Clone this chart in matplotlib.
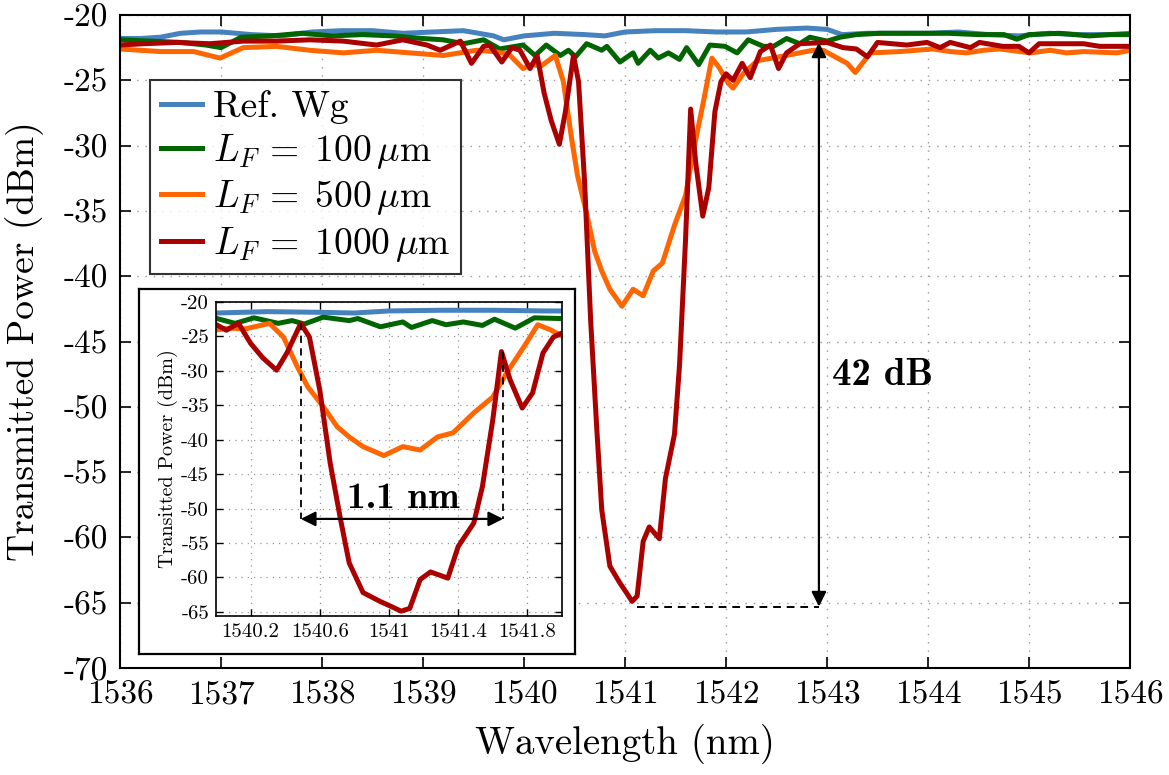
import matplotlib
matplotlib.use("Agg")
import matplotlib.pyplot as plt

plt.rcParams['font.family'] = 'cmr10'
plt.rcParams['mathtext.fontset'] = 'cm'
plt.rcParams['axes.unicode_minus'] = False
plt.rcParams['axes.formatter.use_mathtext'] = True

# Ref. waveguide
wl_ref = [1536.0, 1536.2, 1536.4, 1536.6, 1536.8, 1537.0, 1537.3, 1537.6, 1537.9, 1538.2,
          1538.5, 1538.8, 1539.1, 1539.4, 1539.7, 1539.8, 1540.0, 1540.3, 1540.6, 1540.8,
          1541.0, 1541.3, 1541.6, 1541.9, 1542.2, 1542.5, 1542.8, 1543.0, 1543.15, 1543.4,
          1543.7, 1544.0, 1544.3, 1544.6, 1544.9, 1545.2, 1545.5, 1545.8, 1546.0]
p_ref = [-21.8, -21.8, -21.7, -21.4, -21.3, -21.3, -21.5, -21.6, -21.3, -21.2,
         -21.2, -21.4, -21.3, -21.2, -21.6, -21.9, -21.6, -21.4, -21.5, -21.6,
         -21.3, -21.2, -21.2, -21.3, -21.3, -21.1, -21.0, -21.1, -21.5, -21.4,
         -21.4, -21.4, -21.3, -21.5, -21.6, -21.4, -21.5, -21.5, -21.4]

# L_F = 100 um
wl_100 = [1536.0, 1536.3, 1536.6, 1536.85, 1537.0, 1537.2, 1537.5, 1537.8, 1538.1, 1538.4,
          1538.7, 1539.0, 1539.2, 1539.4, 1539.6, 1539.76, 1539.99, 1540.11, 1540.22, 1540.36,
          1540.44, 1540.51, 1540.62, 1540.77, 1540.82, 1540.95, 1541.08, 1541.13, 1541.25, 1541.33,
          1541.43, 1541.54, 1541.61, 1541.73, 1541.84, 1541.99, 1542.11, 1542.22, 1542.37, 1542.47,
          1542.6, 1542.73, 1542.83, 1543.0, 1543.13, 1543.29, 1543.52, 1543.9, 1544.2, 1544.5,
          1544.75, 1544.88, 1545.0, 1545.3, 1545.6, 1545.8, 1546.0]
p_100 = [-21.9, -22.0, -22.1, -22.3, -22.5, -21.7, -21.6, -21.4, -21.6, -21.5,
         -21.6, -21.8, -21.9, -22.2, -21.9, -22.6, -22.3, -23.1, -22.3, -23.1,
         -22.7, -23.2, -22.2, -22.7, -22.4, -23.6, -22.9, -23.7, -22.7, -23.3,
         -22.9, -23.4, -22.5, -23.8, -22.3, -22.4, -22.9, -21.9, -22.4, -22.4,
         -21.8, -22.2, -21.7, -22.0, -21.7, -21.5, -21.4, -21.4, -21.4, -21.5,
         -21.5, -21.85, -21.5, -21.4, -21.6, -21.5, -21.5]

# L_F = 500 um
wl_500 = [1536.0, 1536.4, 1536.73, 1536.99, 1537.22, 1537.55, 1537.88, 1538.21, 1538.54, 1538.87,
          1539.2, 1539.53, 1539.7, 1539.85, 1539.99, 1540.08, 1540.17, 1540.31, 1540.39, 1540.47,
          1540.53, 1540.62, 1540.70, 1540.77, 1540.85, 1540.97, 1541.08, 1541.18, 1541.28, 1541.37,
          1541.49, 1541.60, 1541.68, 1541.78, 1541.86, 1541.93, 1542.02, 1542.07, 1542.17, 1542.31,
          1542.53, 1542.86, 1542.96, 1543.2, 1543.28, 1543.43, 1543.72, 1544.05, 1544.22, 1544.38,
          1544.55, 1544.71, 1545.01, 1545.21, 1545.37, 1545.54, 1545.87, 1546.0]
p_500 = [-22.6, -22.8, -22.8, -23.3, -22.5, -22.4, -22.7, -22.9, -22.7, -22.9,
         -23.1, -22.7, -22.8, -23.0, -24.1, -23.8, -23.9, -23.1, -25.1, -29.4,
         -32.3, -35.2, -38.1, -39.6, -41.0, -42.3, -41.0, -41.5, -39.6, -39.0,
         -36.1, -33.8, -30.3, -26.5, -23.3, -24.0, -25.2, -25.6, -24.5, -23.5,
         -23.2, -22.7, -22.7, -23.7, -24.4, -22.9, -22.8, -22.6, -22.8, -22.9,
         -22.7, -22.6, -22.9, -22.7, -22.9, -22.8, -22.9, -22.7]

# L_F = 1000 um
wl_1000 = [1536.0, 1536.23, 1536.56, 1536.89, 1537.22, 1537.55, 1537.88, 1538.21, 1538.54, 1538.8,
           1539.04, 1539.17, 1539.37, 1539.48, 1539.6, 1539.66, 1539.78, 1539.88, 1539.96, 1540.06,
           1540.13, 1540.2, 1540.27, 1540.35, 1540.41, 1540.49, 1540.54, 1540.6, 1540.66, 1540.72,
           1540.77, 1540.85, 1540.95, 1541.02, 1541.07, 1541.12, 1541.18, 1541.24, 1541.34, 1541.40,
           1541.49, 1541.54, 1541.60, 1541.65, 1541.70, 1541.77, 1541.83, 1541.89, 1541.95, 1542.0,
           1542.07, 1542.16, 1542.24, 1542.34, 1542.44, 1542.52, 1542.6, 1542.73, 1543.0, 1543.16,
           1543.29, 1543.4, 1543.5, 1543.79, 1543.99, 1544.12, 1544.22, 1544.42, 1544.51, 1544.74,
           1544.9, 1545.0, 1545.1, 1545.54, 1545.7, 1546.0]
p_1000 = [-22.3, -22.2, -22.1, -22.2, -22.0, -22.0, -21.9, -22.0, -22.3, -21.9,
          -22.3, -22.7, -22.0, -23.7, -22.4, -22.3, -23.6, -22.5, -22.7, -24.1,
          -23.1, -26.0, -28.1, -29.9, -27.4, -23.1, -25.1, -32.8, -43.4, -51.6,
          -57.9, -62.2, -63.5, -64.3, -64.9, -64.5, -60.3, -59.2, -60.1, -55.5,
          -52.1, -46.8, -37.1, -27.2, -31.3, -35.4, -33.2, -27.4, -25.1, -24.5,
          -25.0, -23.7, -24.8, -22.8, -22.3, -24.1, -22.9, -22.2, -22.1, -22.5,
          -22.6, -23.2, -22.1, -22.3, -22.1, -22.5, -22.1, -22.5, -22.1, -22.4,
          -22.4, -22.9, -22.2, -22.2, -22.4, -22.4]

labels = ['Ref. Wg', r'$L_F\,=\;100\,\mu$m', r'$L_F\,=\;500\,\mu$m', r'$L_F\,=\;1000\,\mu$m']
colors = ['#4682BE', '#006400', '#FF6600', '#AA0000']

main_xticks = list(range(1536, 1547))
main_yticks = list(range(-70, -19, 5))
inset_xticks = [1540.2, 1540.6, 1541.0, 1541.4, 1541.8]
inset_xtick_labels = ['1540.2', '1540.6', '1541', '1541.4', '1541.8']
inset_yticks = list(range(-65, -19, 5))

series = [(wl_ref, p_ref), (wl_100, p_100), (wl_500, p_500), (wl_1000, p_1000)]
W, H = 1169, 775

fig = plt.figure(figsize=(11.69, 7.75), dpi=100)
ax = fig.add_axes([120 / W, 1 - 668 / H, 1010 / W, 653 / H])

for (x, y), lab, c in zip(series, labels, colors):
    ax.plot(x, y, color=c, lw=3.6, label=lab)

ax.set_xlim(1536, 1546)
ax.set_ylim(-70, -20)
ax.set_xticks(main_xticks)
ax.set_xticklabels([str(t) for t in main_xticks])
ax.set_yticks(main_yticks)
ax.set_yticklabels([str(t) for t in main_yticks])
ax.tick_params(direction='in', top=True, right=True, length=8, width=1.2, labelsize=24, pad=9)
ax.grid(True, linestyle=(0, (1, 5)), color='0.6', lw=1.0)
for s in ax.spines.values():
    s.set_linewidth(1.5)
ax.set_xlabel('Wavelength (nm)', fontsize=28, labelpad=10)
ax.set_ylabel('Transmitted Power (dBm)', fontsize=27, labelpad=14)

leg = ax.legend(loc='upper left', bbox_to_anchor=((150 - 120) / 1010, (668 - 80) / 653),
                borderaxespad=0, fontsize=27, frameon=True, fancybox=False,
                handlelength=1.1, handletextpad=0.3, labelspacing=0.2, borderpad=0.28)
leg.get_frame().set_edgecolor('black')
leg.get_frame().set_linewidth(1.5)

# 42 dB annotation
ax.annotate('', xy=(1542.92, -22.1), xytext=(1542.92, -65.3),
            arrowprops=dict(arrowstyle='<|-|>', color='black', lw=1.6,
                            mutation_scale=22, shrinkA=0, shrinkB=0))
ax.plot([1541.12, 1542.92], [-65.3, -65.3], color='black', lw=1.4, ls=(0, (4, 3)))
ax.text(1543.05, -47.6, '42 dB', fontfamily='cmb10', fontsize=28, va='center', ha='left')

# inset frame
frame = fig.add_axes([139 / W, 1 - 654 / H, (575 - 139) / W, (654 - 289) / H])
frame.set_xticks([])
frame.set_yticks([])
frame.set_facecolor('white')
for s in frame.spines.values():
    s.set_linewidth(1.6)

ins = fig.add_axes([216 / W, 1 - 616 / H, (562 - 216) / W, (616 - 302) / H])
for (x, y), c in zip(series, colors):
    ins.plot(x, y, color=c, lw=3.6)
ins.set_xlim(1540.0, 1542.0)
ins.set_ylim(-65.6, -20)
ins.set_xticks(inset_xticks)
ins.set_xticklabels(inset_xtick_labels)
ins.set_yticks(inset_yticks)
ins.set_yticklabels([str(t) for t in inset_yticks])
ins.tick_params(direction='in', top=True, right=True, length=5, width=1.0, labelsize=15, pad=5)
ins.grid(True, linestyle=(0, (1, 4)), color='0.6', lw=0.9)
for s in ins.spines.values():
    s.set_linewidth(1.2)
ins.set_ylabel('Transitted Power (dBm)', fontsize=14.5, labelpad=2)

ins.plot([1540.49, 1540.49], [-23.1, -51.5], color='black', lw=1.3, ls=(0, (4, 3)))
ins.plot([1541.66, 1541.66], [-27.2, -51.5], color='black', lw=1.3, ls=(0, (4, 3)))
ins.annotate('', xy=(1540.49, -51.5), xytext=(1541.66, -51.5),
             arrowprops=dict(arrowstyle='<|-|>', color='black', lw=1.6,
                             mutation_scale=22, shrinkA=0, shrinkB=0))
ins.text(1541.08, -48.6, '1.1 nm', fontfamily='cmb10', fontsize=27, va='center', ha='center')

fig.savefig('out.png', dpi=100)
